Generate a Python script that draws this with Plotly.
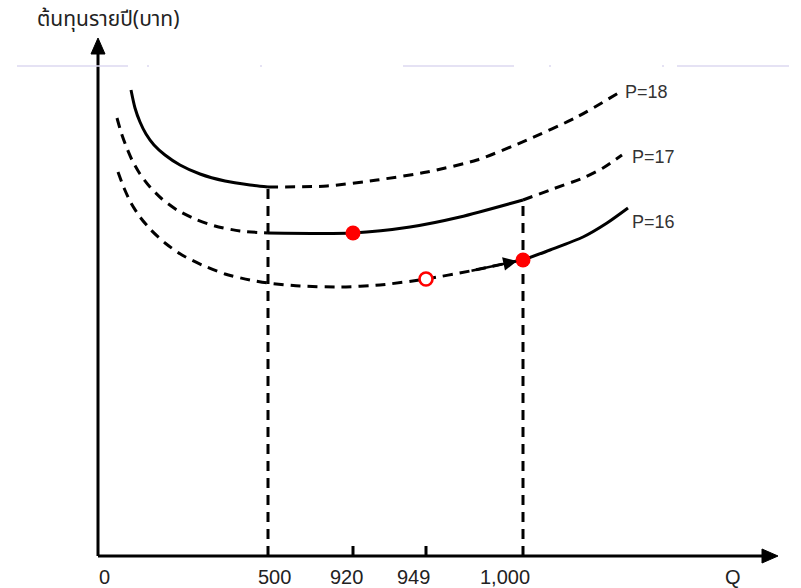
import plotly.graph_objects as go

# Schematic annual-cost curves (diagram units: 1 unit of Q-position / cost)
# P=18
p18_solid_q = [33, 37, 42, 48, 56, 67, 82, 102, 127, 152, 170]
p18_solid_c = [466, 448, 434, 422, 411, 401, 391, 382, 375, 371, 369]
p18_dash_q = [170, 229, 279, 329, 379, 429, 479, 522]
p18_dash_c = [369, 370, 376, 384, 396, 416, 439, 464]
# P=17
p17_dash1_q = [19, 23, 28, 34, 42, 52, 64, 79, 97, 117, 142, 170]
p17_dash1_c = [438, 424, 410, 396, 382, 369, 357, 346, 337, 330, 325, 323]
p17_solid_q = [170, 255, 312, 362, 425]
p17_solid_c = [323, 323, 329, 339, 356]
p17_dash2_q = [425, 452, 485, 505, 524]
p17_dash2_c = [356, 366, 378, 388, 401]
# P=16
p16_dash_q = [20, 26, 33, 42, 53, 67, 84, 104, 127, 152, 170, 202, 242, 282, 328, 372, 419]
p16_dash_c = [384, 368, 353, 339, 326, 313, 301, 291, 282, 276, 273, 270, 269, 271, 277, 285, 295]
p16_solid_q = [425, 452, 485, 509, 530]
p16_solid_c = [296, 306, 319, 333, 348]

# Highlighted points
opt_q = [255, 425]
opt_c = [323, 296]
open_q = [328]
open_c = [277]

# Q-axis labels and their positions
tick_labels = ["0", "500", "920", "949", "1,000", "Q"]
tick_label_pos = [6, 176, 248, 315, 407, 635]
minor_tick_pos = [255, 328]
guide_q = [170, 425]
guide_top = [369, 356]

curve_labels = ["P=18", "P=17", "P=16"]
curve_label_q = [525, 532, 532]
curve_label_c = [464, 399, 334]

BLACK = "#000000"
DASH = "10px,7px"

W, H, L, B = 801, 588, 88, 22
PW, PH = 700, 538
X0, Y0 = -10, -10  # axis minimums


def px(xp):
    return (xp - L) / PW


def py(yp):
    return (H - B - yp) / PH


def qx(q):
    # diagram Q-position -> paper fraction
    return (q - X0) / PW


def cy(c):
    return (c - Y0) / PH


fig = go.Figure()


def add_curve(q, c, dashed):
    fig.add_trace(go.Scatter(
        x=q, y=c, mode="lines",
        line=dict(color=BLACK, width=3, shape="spline", smoothing=0.7,
                  dash=DASH if dashed else "solid"),
        hoverinfo="skip", showlegend=False,
    ))


add_curve(p18_solid_q, p18_solid_c, False)
add_curve(p18_dash_q, p18_dash_c, True)
add_curve(p17_dash1_q, p17_dash1_c, True)
add_curve(p17_solid_q, p17_solid_c, False)
add_curve(p17_dash2_q, p17_dash2_c, True)
add_curve(p16_dash_q, p16_dash_c, True)
add_curve(p16_solid_q, p16_solid_c, False)

# vertical guides at Q=500 and Q=1,000
for gq, gt in zip(guide_q, guide_top):
    fig.add_trace(go.Scatter(
        x=[gq, gq], y=[0, gt], mode="lines",
        line=dict(color=BLACK, width=3, dash=DASH),
        hoverinfo="skip", showlegend=False,
    ))

# short ticks at 920 and 949
for mq in minor_tick_pos:
    fig.add_trace(go.Scatter(
        x=[mq, mq], y=[0, 10], mode="lines",
        line=dict(color=BLACK, width=3),
        hoverinfo="skip", showlegend=False,
    ))

# movement arrow along P=16
fig.add_annotation(x=p16_dash_q[-1], y=p16_dash_c[-1],
                   ax=p16_dash_q[-2], ay=p16_dash_c[-2],
                   xref="x", yref="y", axref="x", ayref="y",
                   text="", showarrow=True, arrowhead=2, arrowsize=1.1,
                   arrowwidth=2.5, arrowcolor=BLACK, standoff=0)

fig.add_trace(go.Scatter(
    x=open_q, y=open_c, mode="markers",
    marker=dict(size=13, color="white", line=dict(color="#ff0000", width=2.6)),
    hoverinfo="skip", showlegend=False,
))
fig.add_trace(go.Scatter(
    x=opt_q, y=opt_c, mode="markers",
    marker=dict(size=15, color="#ff0000", line=dict(width=0)),
    hoverinfo="skip", showlegend=False,
))

# axes with arrowheads
shapes = [
    dict(type="line", xref="x", yref="y", x0=0, y0=0, x1=0, y1=506,
         line=dict(color=BLACK, width=3)),
    dict(type="path", xref="x", yref="y", path="M -7 502 L 0 518 L 7 502 Z",
         fillcolor=BLACK, line=dict(color=BLACK, width=1)),
    dict(type="line", xref="x", yref="y", x0=0, y0=0, x1=668, y1=0,
         line=dict(color=BLACK, width=3)),
    dict(type="path", xref="x", yref="y", path="M 664 -7 L 680 0 L 664 7 Z",
         fillcolor=BLACK, line=dict(color=BLACK, width=1)),
]

# faint rule across the top
faint = "#dcd8f0"
for a, b in [(17, 128), (403, 514), (677, 789)]:
    shapes.append(dict(type="line", xref="paper", yref="paper",
                       x0=px(a), x1=px(b), y0=py(66), y1=py(66),
                       line=dict(color=faint, width=1.5)))
for d in [147, 260, 549, 662]:
    shapes.append(dict(type="line", xref="paper", yref="paper",
                       x0=px(d), x1=px(d + 2), y0=py(66), y1=py(66),
                       line=dict(color=faint, width=1.5)))

annotations = list(fig.layout.annotations)
for t, tq in zip(tick_labels, tick_label_pos):
    annotations.append(dict(x=qx(tq), y=cy(-21), xref="paper", yref="paper",
                            text=t, showarrow=False,
                            xanchor="center", yanchor="middle",
                            font=dict(family="Liberation Sans Narrow, Arial Narrow, sans-serif",
                                      size=20, color="#222222")))
for t, lq, lc in zip(curve_labels, curve_label_q, curve_label_c):
    annotations.append(dict(x=lq, y=lc, xref="x", yref="y", text=t,
                            showarrow=False, xanchor="left", yanchor="middle",
                            font=dict(family="Liberation Sans, Arial, sans-serif",
                                      size=18, color="#333333")))
annotations.append(dict(x=px(108), y=py(20), xref="paper", yref="paper",
                        text="ต้นทุนรายปี(บาท)", showarrow=False,
                        xanchor="center", yanchor="middle",
                        font=dict(family="Tahoma, Noto Sans Thai, sans-serif",
                                  size=21, color="#222222")))

fig.update_layout(
    width=W, height=H,
    margin=dict(l=L, r=W - L - PW, t=H - B - PH, b=B),
    paper_bgcolor="white", plot_bgcolor="white",
    xaxis=dict(range=[X0, X0 + PW], visible=False, fixedrange=True),
    yaxis=dict(range=[Y0, Y0 + PH], visible=False, fixedrange=True),
    shapes=shapes,
    annotations=annotations,
    showlegend=False,
)

fig.write_html("out.html", config={"displayModeBar": False})
